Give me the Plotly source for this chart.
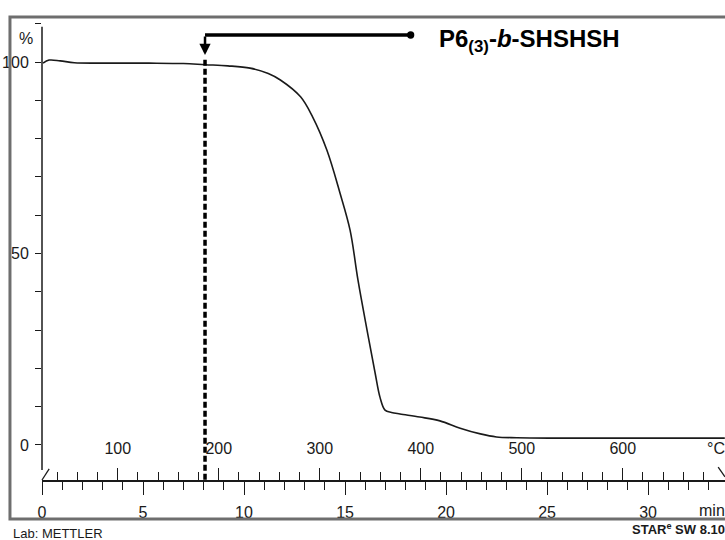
import plotly.graph_objects as go

# TGA curve: time (min) vs residual mass (%)
time_min = [0.05, 0.35, 0.9, 1.6, 3.0, 5.3, 7.0, 8.07, 9.2, 10.3, 11.2, 11.8, 12.8,
            13.4, 14.1, 14.75, 15.25, 15.64, 16.09, 16.49, 16.73, 16.98, 17.3,
            17.72, 18.7, 19.7, 20.7, 21.7, 22.5, 23.5, 25.1, 28.0, 31.0, 33.8]
mass_pct = [99.7, 100.5, 100.3, 99.8, 99.7, 99.7, 99.6, 99.3, 99.0, 98.4, 97.0, 95.3, 90.9,
            85.6, 77.0, 65.8, 56.1, 43.1, 30.0, 18.8, 12.5, 9.1, 8.5,
            8.1, 7.3, 6.3, 4.4, 2.9, 2.1, 1.9, 1.8, 1.8, 1.8, 1.8]

# temperature programme: 25 degC start, 20 K/min
T_START = 25
RATE = 20

time_major = [0, 5, 10, 15, 20, 25, 30]
time_minor = [t for t in range(1, 34) if t % 5 != 0]
temp_major = [100, 200, 300, 400, 500, 600]
temp_minor = [t for t in range(40, 700, 20) if t % 100 != 0]
mass_major = [0, 50, 100]
mass_minor = [10, 20, 30, 40, 60, 70, 80, 90, 110]

onset_time = 8.07
sample_label = "P6<sub>(3)</sub>-<i>b</i>-SHSHSH"

X_MAX = 33.81
Y_RANGE = [-9.14, 111.75]

FONT = "Liberation Sans, Arial, sans-serif"
INK = "#1a1a1a"

fig = go.Figure()

fig.add_trace(go.Scatter(
    x=time_min, y=mass_pct, mode="lines",
    line=dict(color=INK, width=1.6, shape="spline", smoothing=1.0),
    hoverinfo="skip", showlegend=False,
))
# same curve against the temperature axis (invisible) so the axis gets drawn
fig.add_trace(go.Scatter(
    x=[T_START + RATE * t for t in time_min], y=mass_pct, xaxis="x2",
    mode="lines", line=dict(width=0), opacity=0,
    hoverinfo="skip", showlegend=False,
))

# dashed marker line at onset
fig.add_shape(type="line", xref="x", yref="y", x0=onset_time, x1=onset_time,
              y0=100.6, y1=Y_RANGE[0], line=dict(color="black", width=3.5, dash="6px,3px"))

# bracket arrow from label to onset
fig.add_shape(type="line", xref="x", yref="y", x0=onset_time, x1=18.25,
              y0=107.05, y1=107.05, line=dict(color="black", width=3.5))
fig.add_shape(type="circle", xref="x", yref="y", x0=18.07, x1=18.43,
              y0=106.1, y1=108.0, fillcolor="black", line=dict(color="black", width=0))
fig.add_annotation(x=onset_time, y=101.8, xref="x", yref="y",
                   ax=onset_time, ay=107.05, axref="x", ayref="y",
                   showarrow=True, arrowhead=2, arrowsize=0.9, arrowwidth=2.5,
                   arrowcolor="black", text="")
fig.add_annotation(x=0.578, y=0.949, xref="paper", yref="paper", xanchor="left",
                   yanchor="middle", showarrow=False, text="<b>" + sample_label + "</b>",
                   font=dict(family=FONT, size=24, color="black"))

# y axis line and the axis break marks
fig.add_shape(type="line", xref="paper", yref="y", x0=0, x1=0, y0=-6.5, y1=109.2,
              line=dict(color=INK, width=1.5))
fig.add_shape(type="line", xref="paper", yref="paper", x0=0, x1=0.0105,
              y0=0, y1=0.024, line=dict(color=INK, width=1.3))
fig.add_shape(type="line", xref="paper", yref="paper", x0=0.990, x1=1.0,
              y0=0.028, y1=0.007, line=dict(color=INK, width=1.3))

# scanned page frame (right side runs off the page)
fig.add_shape(type="rect", xref="paper", yref="paper", x0=-0.0469, x1=1.1,
              y0=-0.084, y1=1.0, line=dict(color="#6e6e6e", width=3))

# unit labels and footer
fig.add_annotation(x=-0.023, y=0.953, xref="paper", yref="paper", text="%",
                   xanchor="center", yanchor="middle",
                   showarrow=False, font=dict(family=FONT, size=16, color=INK))
fig.add_annotation(x=1.003, y=0.067, xref="paper", yref="paper", text="°C",
                   xanchor="right", yanchor="middle",
                   showarrow=False, font=dict(family=FONT, size=16, color=INK))
fig.add_annotation(x=1.003, y=-0.065, xref="paper", yref="paper", text="min",
                   xanchor="right", yanchor="middle",
                   showarrow=False, font=dict(family=FONT, size=16, color=INK))
fig.add_annotation(x=-0.045, y=-0.115, xref="paper", yref="paper", text="Lab: METTLER",
                   xanchor="left", yanchor="middle", showarrow=False,
                   font=dict(family=FONT, size=13, color=INK))
fig.add_annotation(x=1.003, y=-0.105, xref="paper", yref="paper",
                   text="<b>STAR<sup>e</sup> SW 8.10</b>",
                   xanchor="right", yanchor="middle", showarrow=False,
                   font=dict(family=FONT, size=13, color=INK))

fig.update_layout(
    template="none",
    width=725, height=540,
    margin=dict(l=42, r=0, t=17, b=60, pad=0),
    paper_bgcolor="white", plot_bgcolor="white",
    font=dict(family=FONT, size=16, color=INK),
    xaxis=dict(
        range=[0, X_MAX], showgrid=False, zeroline=False,
        showline=True, linecolor=INK, linewidth=1.5,
        tickmode="array", tickvals=time_major, ticktext=[str(v) for v in time_major],
        ticks="outside", ticklen=13, tickwidth=1.3, tickcolor=INK,
        ticklabelstandoff=4,
        minor=dict(tickmode="array", tickvals=time_minor, ticks="outside",
                   ticklen=8, tickwidth=1.3, tickcolor=INK, showgrid=False),
    ),
    xaxis2=dict(
        overlaying="x", anchor="free", position=0, side="top",
        range=[T_START, T_START + RATE * X_MAX], showgrid=False, zeroline=False,
        showline=False,
        tickmode="array", tickvals=temp_major, ticktext=[str(v) for v in temp_major],
        ticks="outside", ticklen=12, tickwidth=1.3, tickcolor=INK,
        ticklabelstandoff=8,
        minor=dict(tickmode="array", tickvals=temp_minor, ticks="outside",
                   ticklen=8, tickwidth=1.3, tickcolor=INK, showgrid=False),
    ),
    yaxis=dict(
        range=Y_RANGE, showgrid=False, zeroline=False, showline=False,
        tickmode="array", tickvals=mass_major, ticktext=[str(v) for v in mass_major],
        ticks="outside", ticklen=6, tickwidth=1.3, tickcolor=INK,
        ticklabelstandoff=3,
        minor=dict(tickmode="array", tickvals=mass_minor, ticks="outside",
                   ticklen=6, tickwidth=1.3, tickcolor=INK, showgrid=False),
    ),
)

# drop the default 8px page margin so the figure sits at the window's corner
fig.write_html("out.html", config={"displayModeBar": False},
               post_script="document.body.style.margin='0';")
